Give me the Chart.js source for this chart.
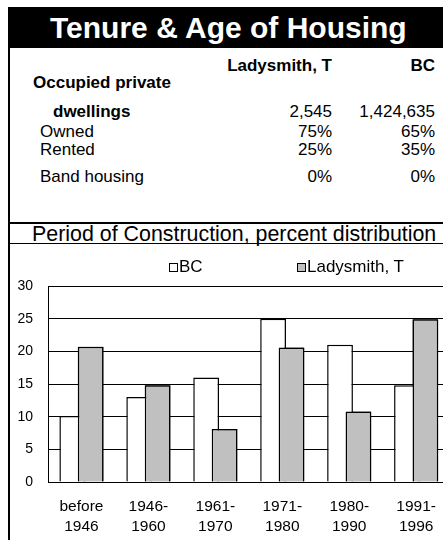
<!DOCTYPE html>
<html><head><meta charset="utf-8">
<script src="https://cdn.jsdelivr.net/npm/chart.js@4/dist/chart.umd.min.js"></script>
<style>
html,body{margin:0;padding:0;background:#fff;overflow:hidden;width:443px;height:540px;}
body{position:relative;font-family:"Liberation Sans",Arial,sans-serif;color:#000;}
.abs{position:absolute;white-space:nowrap;}
#band{left:8px;top:7px;width:435px;height:41px;background:#000;}
#title{left:50px;top:7px;height:41px;line-height:41px;color:#fff;font-weight:bold;font-size:30px;}
.t{font-size:17px;line-height:20px;}
.b{font-weight:bold;}
.line{position:absolute;background:#000;}
#period{left:32px;top:223px;font-size:21.4px;line-height:22px;}
#chartbox{position:absolute;left:10px;top:245px;width:441px;height:295px;}
.lg{position:absolute;top:257px;font-size:17px;line-height:20px;white-space:nowrap;}
.lg i{display:inline-block;width:7px;height:7px;border:1px solid #000;margin-right:1px;vertical-align:0px;}
</style>
</head><body>
<div class="abs" id="band"></div>
<div class="abs" id="title">Tenure &amp; Age of Housing</div>
<div class="line" style="left:8px;top:48px;width:2px;height:492px;"></div>
<div class="line" style="left:8px;top:222px;width:435px;height:2px;"></div>
<div class="line" style="left:8px;top:243px;width:435px;height:1px;"></div>
<div class="abs" id="period">Period of Construction, percent distribution</div>
<div id="table"></div>
<div id="chartbox"><canvas id="c" width="441" height="295"></canvas></div>
<div id="legend"></div>
<script>
// ---- table data ----
const regions = ['Ladysmith, T', 'BC'];
const dwellings = ['2,545', '1,424,635'];
const owned = ['75%', '65%'];
const rented = ['25%', '35%'];
const bandHousing = ['0%', '0%'];

// ---- chart data ----
const periods = [['before','1946'],['1946-','1960'],['1961-','1970'],['1971-','1980'],['1980-','1990'],['1991-','1996']];
const bcValues = [10.1, 13.0, 16.0, 25.0, 21.0, 14.8];
const ladysmithValues = [20.7, 14.8, 8.1, 20.6, 10.8, 24.9];
const yTicks = [0, 5, 10, 15, 20, 25, 30];

// build table
const tbl = document.getElementById('table');
function addText(txt, cls, style){
  const d = document.createElement('div');
  d.className = 'abs t ' + cls;
  d.setAttribute('style', style);
  d.textContent = txt;
  tbl.appendChild(d);
}
const colRight = [111, 8];
const rows = [
  {label:null, vals:regions, top:56, bold:true},
  {label:'Occupied private', left:33, vals:null, top:73, bold:true},
  {label:'dwellings', left:53, vals:dwellings, top:102, bold:true, valBold:false},
  {label:'Owned', left:40, vals:owned, top:122},
  {label:'Rented', left:40, vals:rented, top:140},
  {label:'Band housing', left:40, vals:bandHousing, top:167}
];
rows.forEach(r=>{
  if (r.label) addText(r.label, r.bold?'b':'', 'left:'+r.left+'px;top:'+r.top+'px;');
  if (r.vals) r.vals.forEach((v,i)=>{
    const vb = (r.valBold===undefined ? r.bold : r.valBold);
    addText(v, vb?'b':'', 'right:'+colRight[i]+'px;top:'+r.top+'px;');
  });
});

Chart.defaults.font.family = '"Liberation Sans", Arial, sans-serif';
Chart.defaults.color = '#000';

const onTop = {
  id: 'onTop',
  afterDatasetsDraw(chart){
    const meta = chart.getDatasetMeta(1);
    if (meta && meta.controller) meta.controller.draw();
  }
};

const chart = new Chart(document.getElementById('c'), {
  type: 'bar',
  data: {
    labels: periods,
    datasets: [
      {label:'BC', data:bcValues, backgroundColor:'#ffffff', borderColor:'#000', borderWidth:1.5,
       categoryPercentage:0.55, barPercentage:1.4},
      {label:'Ladysmith, T', data:ladysmithValues, backgroundColor:'#c0c0c0', borderColor:'#000', borderWidth:1.5,
       categoryPercentage:0.55, barPercentage:1.4}
    ]
  },
  plugins:[onTop],
  options: {
    responsive:false, animation:false,
    layout:{padding:{top:41,left:0,right:0,bottom:0}},
    plugins:{legend:{display:false}, tooltip:{enabled:false}},
    scales:{
      x:{
        grid:{display:false, drawTicks:false},
        border:{display:true, color:'#000', width:1},
        ticks:{font:{size:15.5, lineHeight:1.29}, padding:15, maxRotation:0, autoSkip:false},
        afterFit(s){ s.height = 58; }
      },
      y:{
        min:0, max:30,
        grid:{color:'#000', lineWidth:1, drawTicks:false},
        border:{display:true, color:'#000', width:1},
        ticks:{stepSize:5, font:{size:14}, padding:15,
          callback:(v)=> yTicks.includes(v) ? String(v) : ''},
        afterFit(s){ s.width = 38; }
      }
    }
  }
});

// legend from chart datasets
const lg = document.getElementById('legend');
const lgLeft = [169, 297];
chart.data.datasets.forEach((ds,i)=>{
  const d = document.createElement('div');
  d.className = 'lg';
  d.style.left = lgLeft[i] + 'px';
  const sw = document.createElement('i');
  sw.style.background = ds.backgroundColor;
  d.appendChild(sw);
  d.appendChild(document.createTextNode(ds.label));
  lg.appendChild(d);
});
</script>
</body></html>
